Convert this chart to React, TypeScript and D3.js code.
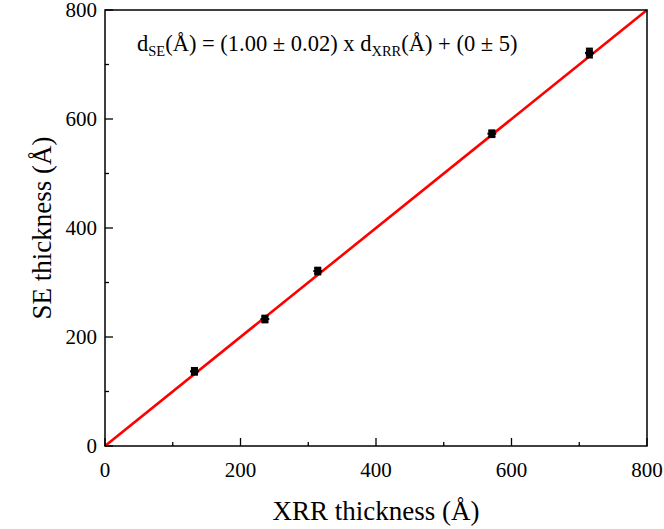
import React from "react";
import * as d3 from "d3";

const xrr = [132, 236, 314, 571, 715];
const se = [137, 233, 321, 573, 721];
const seErr = [6, 6, 6, 6, 8];
const xrrErr = [5, 5, 5, 5, 5];
const majorTicks = [0, 200, 400, 600, 800];
const minorTicks = [100, 300, 500, 700];
const fitLine = [0, 800];

const W = 664, H = 529;
const M = { left: 105, right: 647, top: 10, bottom: 446 };
const font = "'Liberation Serif', 'Times New Roman', serif";

export default function App() {
  const x = d3.scaleLinear().domain([0, 800]).range([M.left, M.right]);
  const y = d3.scaleLinear().domain([0, 800]).range([M.bottom, M.top]);
  const line = d3.line<number>().x((d) => x(d)).y((d) => y(d));
  return (
    <svg width={W} height={H} style={{ position: "absolute", left: 0, top: 0, background: "#fff" }}>
      <rect x={0} y={0} width={W} height={H} fill="#fff" />
      {/* fit line */}
      <path d={line(fitLine) || ""} stroke="#ff0000" strokeWidth={2.6} fill="none" />
      {/* data points */}
      {xrr.map((v, i) => {
        const cx = x(v), cy = y(se[i]);
        const ey = Math.abs(y(se[i] + seErr[i]) - cy);
        const ex = Math.abs(x(xrr[i] + xrrErr[i]) - cx);
        return (
          <g key={i} stroke="#000" strokeWidth={2.2}>
            <line x1={cx} x2={cx} y1={cy - ey} y2={cy + ey} />
            <line x1={cx - 3.5} x2={cx + 3.5} y1={cy - ey} y2={cy - ey} />
            <line x1={cx - 3.5} x2={cx + 3.5} y1={cy + ey} y2={cy + ey} />
            <line x1={cx - ex - 1} x2={cx + ex + 1} y1={cy} y2={cy} />
            <rect x={cx - 3.5} y={cy - 3.5} width={7} height={7} fill="#000" strokeWidth={0} />
          </g>
        );
      })}
      {/* frame */}
      <rect x={M.left} y={M.top} width={M.right - M.left} height={M.bottom - M.top} fill="none" stroke="#000" strokeWidth={1.5} />
      {/* x ticks */}
      {majorTicks.map((t) => (
        <g key={"xm" + t}>
          <line x1={x(t)} x2={x(t)} y1={M.bottom} y2={M.bottom - 8} stroke="#000" strokeWidth={1.3} />
          <text x={x(t)} y={M.bottom + 31} textAnchor="middle" fontFamily={font} fontSize={21} fill="#000">{t}</text>
        </g>
      ))}
      {minorTicks.map((t) => (
        <line key={"xn" + t} x1={x(t)} x2={x(t)} y1={M.bottom} y2={M.bottom - 4} stroke="#000" strokeWidth={1.3} />
      ))}
      {/* y ticks */}
      {majorTicks.map((t) => (
        <g key={"ym" + t}>
          <line x1={M.left} x2={M.left + 8} y1={y(t)} y2={y(t)} stroke="#000" strokeWidth={1.3} />
          <text x={M.left - 8} y={y(t) + 7} textAnchor="end" fontFamily={font} fontSize={21} fill="#000">{t}</text>
        </g>
      ))}
      {minorTicks.map((t) => (
        <line key={"yn" + t} x1={M.left} x2={M.left + 4} y1={y(t)} y2={y(t)} stroke="#000" strokeWidth={1.3} />
      ))}
      {/* axis titles */}
      <text x={(M.left + M.right) / 2} y={520} textAnchor="middle" fontFamily={font} fontSize={27} fill="#000">XRR thickness (Å)</text>
      <text transform={`translate(51, ${(M.top + M.bottom) / 2}) rotate(-90)`} textAnchor="middle" fontFamily={font} fontSize={27} fill="#000">SE thickness (Å)</text>
      {/* equation */}
      <text x={137} y={51} fontFamily={font} fontSize={22.5} fill="#000">
        d<tspan fontSize={14.5} dy={5}>SE</tspan><tspan dy={-5}>(Å) = (1.00 ± 0.02) x d</tspan><tspan fontSize={14.5} dy={5}>XRR</tspan><tspan dy={-5}>(Å) + (0 ± 5)</tspan>
      </text>
    </svg>
  );
}
